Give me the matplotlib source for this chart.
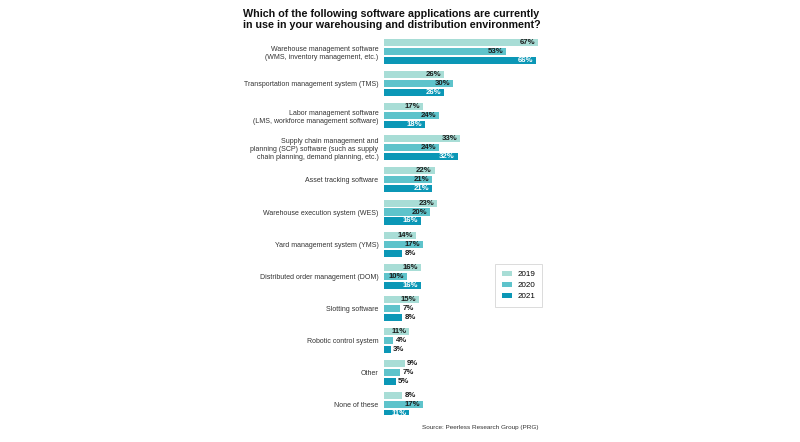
import matplotlib
matplotlib.use('Agg')
import matplotlib.pyplot as plt
import numpy as np

plt.rcParams['font.family'] = ['Liberation Sans', 'DejaVu Sans']

categories = [
    'Warehouse management software\n(WMS, inventory management, etc.)',
    'Transportation management system (TMS)',
    'Labor management software\n(LMS, workforce management software)',
    'Supply chain management and\nplanning (SCP) software (such as supply\nchain planning, demand planning, etc.)',
    'Asset tracking software',
    'Warehouse execution system (WES)',
    'Yard management system (YMS)',
    'Distributed order management (DOM)',
    'Slotting software',
    'Robotic control system',
    'Other',
    'None of these',
]
years = ['2019', '2020', '2021']
values_2019 = [67, 26, 17, 33, 22, 23, 14, 16, 15, 11, 9, 8]
values_2020 = [53, 30, 24, 24, 21, 20, 17, 10, 7, 4, 7, 17]
values_2021 = [66, 26, 18, 32, 21, 16, 8, 16, 8, 3, 5, 11]

colors = ['#a8ddd6', '#5ec3cb', '#0b97b6']
inside_text = ['#1a1a1a', '#1a1a1a', 'white']

W, H = 800, 442
fig = plt.figure(figsize=(W / 100, H / 100), dpi=100)

# axes placed in pixel terms
left, right, top, bottom = 384, 545, 35, 415
ax = fig.add_axes([left / W, 1 - bottom / H, (right - left) / W, (bottom - top) / H])

n = len(categories)
y = np.arange(n)
offsets = [-0.28, 0, 0.28]
bar_h = 0.22

for k, vals in enumerate([values_2019, values_2020, values_2021]):
    ypos = y + offsets[k]
    ax.barh(ypos, vals, height=bar_h, color=colors[k], label=years[k])
    for yy, v in zip(ypos, vals):
        if v >= 10:
            ax.text(v - 1.2, yy, f'{v}%', ha='right', va='center',
                    fontsize=5.6, fontweight='bold', color=inside_text[k])
        else:
            ax.text(v + 1.0, yy, f'{v}%', ha='left', va='center',
                    fontsize=5.6, fontweight='bold', color='#1a1a1a')

ax.set_xlim(0, (right - left) / 2.3)
ax.set_ylim(n - 1 + 0.33, -0.52)
ax.set_yticks(y)
ax.set_yticklabels(categories, fontsize=5, color='#333333', linespacing=1.25)
ax.tick_params(axis='y', length=0, pad=4)
ax.set_xticks([])
for s in ax.spines.values():
    s.set_visible(False)

fig.text(243 / W, 1 - 9 / H,
         'Which of the following software applications are currently\n'
         'in use in your warehousing and distribution environment?',
         ha='left', va='top', fontsize=7.75, fontweight='bold', color='#111111',
         linespacing=1.15)

fig.text(539 / W, 1 - 428 / H, 'Source: Peerless Research Group (PRG)',
         ha='right', va='center', fontsize=4.6, color='#333333')

leg = fig.legend(loc='upper left', bbox_to_anchor=(495 / W, 1 - 264 / H),
                 fontsize=5.8, frameon=True, fancybox=False, edgecolor='#cccccc',
                 handlelength=1.25, handleheight=0.6, labelspacing=0.45,
                 borderpad=0.85, handletextpad=0.7, borderaxespad=0)
leg.get_frame().set_linewidth(0.6)

fig.savefig('out.png', dpi=100)
